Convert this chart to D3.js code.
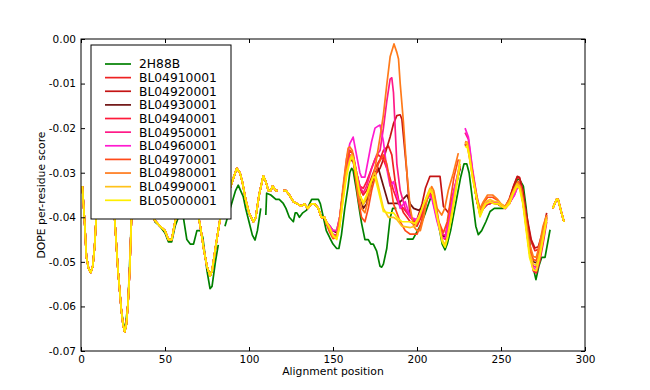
<!DOCTYPE html>
<meta charset="utf-8">
<script src="https://d3js.org/d3.v7.min.js"></script>
<style>
  body { margin: 0; background: #fff; }
  text { font-family: "DejaVu Sans", sans-serif; }
</style>
<div id="my_dataviz"></div>
<script>

// names + colours, in the order they are plotted (legend order)
var names = ["2H88B", "BL04910001", "BL04920001", "BL04930001", "BL04940001", "BL04950001",
             "BL04960001", "BL04970001", "BL04980001", "BL04990001", "BL05000001"];
var colors = ["#008000", "#ee2222", "#c41414", "#6e1111", "#ff1a3a", "#ff1a88",
              "#ff1ad0", "#ff4a1a", "#ff7a1a", "#ffc21a", "#ffee00"];

var xTicks = [0, 50, 100, 150, 200, 250, 300];
var yTicks = [0, -0.01, -0.02, -0.03, -0.04, -0.05, -0.06, -0.07];

// [alignment position, score]; null = gap in the data
// start of the curve, shared by all the BL models (and hidden green)
var modelsStart = [[0.8,-0.033],[2.2,-0.0413],[3.2,-0.0488],[4.5,-0.0515],[5.8,-0.0524],[7,-0.051],[8.1,-0.0466],[9.1,-0.0399],[10,-0.035],
  [12,-0.030],[14,-0.028],[16,-0.030],[18,-0.034],[19,-0.036],[20,-0.040],[22,-0.0518],[24,-0.0608],[25,-0.064],[26,-0.0657],
  [27,-0.064],[28,-0.0593],[29,-0.0518],[30,-0.0406],[31,-0.036],[33,-0.034],[36,-0.032],[40,-0.035],[43.8,-0.0406],
  [47,-0.042],[50,-0.043],[52,-0.045],[54,-0.045],[56,-0.041],[58,-0.038],[61,-0.037],[64,-0.038],[67,-0.037],[69,-0.038],
  [71,-0.042],[73,-0.047],[75,-0.051],[76.8,-0.0532],[78,-0.052],[80,-0.047],[82.7,-0.0406],[85,-0.037],[87.7,-0.0346],
  [90,-0.032],[92.7,-0.029],[94.6,-0.030],[96,-0.032],[98,-0.036],[100,-0.039],[102.6,-0.041],[104,-0.040],[106,-0.035],
  [108.5,-0.0307],[110,-0.032],[111.5,-0.034],[113,-0.034],[114,-0.033],[116,-0.034],[117,-0.034], null,
  [120.4,-0.034],[122,-0.034],[124,-0.035],[126.4,-0.0365],[129,-0.037],[131,-0.0375],[133,-0.037],[135,-0.038],
  [137,-0.037],[139,-0.037],[141.3,-0.038],[143,-0.040],[145,-0.040]];

// last short piece, shared by all the BL models
var modelsEnd = [null, [280.8,-0.038],[283,-0.036],[284,-0.036],[286,-0.039],[287.5,-0.041]];

var green = [[0.8,-0.033],[2.2,-0.0413],[3.2,-0.0488],[4.5,-0.0515],[5.8,-0.0524],[7,-0.051],[8.1,-0.0466],[9.1,-0.0399],
  [10,-0.035],[14,-0.029],[18,-0.034],[20,-0.040],[22,-0.0518],[24,-0.0608],[26,-0.0657],[28,-0.0593],[30,-0.0406],[33,-0.034],
  [36,-0.032],[40,-0.035],[44,-0.041],[47,-0.042],[50,-0.0435],[52,-0.0455],[54,-0.0455],[56,-0.042],[58,-0.040],[61,-0.0402],
  [63,-0.045],[65,-0.046],[67,-0.046],[69,-0.043],[71,-0.043],[72.5,-0.0445],[75,-0.052],[76.8,-0.056],[78,-0.0555],
  [80,-0.050],[81.7,-0.0462], null, [85.7,-0.042],[88,-0.039],[89.7,-0.0369],[92,-0.034],[93.6,-0.0328],[95,-0.034],
  [96.6,-0.0354],[98,-0.038],[100,-0.041],[102,-0.044],[103.6,-0.0451],[105,-0.043],[107,-0.038], null,
  [110,-0.0395],[110.5,-0.0346],[113,-0.035],[116,-0.036],[118,-0.036],[120.4,-0.0369],[122,-0.038],[124,-0.040],
  [126.4,-0.041],[127.5,-0.039],[128.5,-0.039],[130,-0.040],[132,-0.039],[134.3,-0.0384],[136,-0.037],[137.3,-0.036],
  [141.3,-0.036],[142.5,-0.037],[144.2,-0.0399],[146,-0.043],[148.2,-0.0447],[150,-0.046],[152.2,-0.047],[153.5,-0.047],
  [155,-0.044],[157,-0.038],[159,-0.033],[160,-0.030],[161.1,-0.029],[162,-0.0295],[164,-0.034],[166,-0.039],[167,-0.0413],
  [169,-0.045],[171,-0.045],[172.5,-0.046],[174,-0.046],[176,-0.0476],[178,-0.051],[179,-0.0512],[180,-0.0505],[182,-0.047],
  [184,-0.0402],[185.5,-0.038],[187.7,-0.038], null, [193.8,-0.0449],[197.6,-0.0449],[201.8,-0.042],[205,-0.039],
  [208.7,-0.035],[210,-0.0355],[213,-0.042],[215,-0.046],[216.7,-0.0473],[218,-0.046],[220,-0.043],[222,-0.039],[224,-0.035],
  [226,-0.031],[228,-0.028],[229.6,-0.028],[231,-0.030],[233,-0.036],[235,-0.042],[236.5,-0.0439],[238.5,-0.043],[241,-0.041],
  [243.5,-0.0387],[246,-0.038],[251.4,-0.038],[253,-0.0375],[255.4,-0.0364],[257.5,-0.034],[259.7,-0.0315],[261,-0.0315],
  [263.3,-0.033],[265,-0.038],[267.3,-0.0464],[269,-0.051],[270.8,-0.054],[272.5,-0.051],[274.2,-0.049],[276.2,-0.049],
  [279.2,-0.0428]];

var bl04910001 = [[146,-0.041],[148.2,-0.0428],[150,-0.044],[152.2,-0.0442],[154,-0.041],[156,-0.034],[158,-0.028],[160,-0.025],
  [162,-0.0258],[164,-0.030],[166,-0.0335],[168,-0.035],[170,-0.034],[172,-0.032],[175,-0.029],[178,-0.027],[180,-0.025],
  [183,-0.024],[185,-0.026],[187,-0.032],[189,-0.036],[192,-0.039],[196,-0.041],[200,-0.042],[203,-0.0395],[207,-0.035],
  [209,-0.0355],[212,-0.0405],[215,-0.0445],[217,-0.044],[219,-0.040],[222,-0.034],[225.6,-0.0285], null,
  [228.6,-0.0235],[230.6,-0.024],[233,-0.030],[235.5,-0.036],[237.5,-0.039],[239.5,-0.0378],[242,-0.0368],[245,-0.0365],
  [248,-0.0368],[250,-0.0373],[252.4,-0.0378],[255,-0.0358],[257.5,-0.033],[259.7,-0.031],[261,-0.0312],[263,-0.034],
  [265,-0.0395],[268,-0.0455],[270.2,-0.0475],[272.2,-0.0472],[275,-0.0435],[277.2,-0.0395]];

var bl04920001 = [[146,-0.0412],[148.2,-0.0425],[150,-0.043],[152.2,-0.043],[154,-0.040],[156,-0.034],[158,-0.029],[160,-0.027],
  [162,-0.0275],[164,-0.031],[166,-0.035],[168,-0.037],[170,-0.036],[172,-0.033],[174,-0.031],[176,-0.030],[178,-0.029],
  [180,-0.027],[182,-0.0245],[184,-0.022],[186,-0.019],[188,-0.0172],[190,-0.017],[191,-0.018],[192,-0.022],[193.9,-0.0297],
  [195.8,-0.0394],[198,-0.041],[200,-0.0405],[203,-0.037],[205,-0.0335],[207.7,-0.0308],[213.7,-0.0308],[215.7,-0.0375],
  [218.7,-0.039],[221.6,-0.0349],[225.6,-0.029], null, [228.6,-0.0238],[230.6,-0.0245],[233,-0.030],[235.5,-0.036],
  [237.5,-0.039],[239.5,-0.0378],[242,-0.037],[245,-0.0368],[248,-0.037],[250,-0.0375],[252.4,-0.0378],[255,-0.036],
  [257.5,-0.033],[259.7,-0.0308],[261,-0.031],[263,-0.034],[265,-0.039],[268,-0.045],[270.2,-0.0469],[272.2,-0.0466],
  [275,-0.043],[277.2,-0.039]];

var bl04930001 = [[146,-0.041],[148.2,-0.042],[150,-0.043],[152.2,-0.0435],[154,-0.041],[156,-0.035],[158,-0.030],[160,-0.0265],
  [162,-0.027],[164,-0.031],[166,-0.035],[168,-0.038],[170,-0.037],[172,-0.034],[174,-0.031],[176,-0.0295],[177,-0.029],
  [180,-0.033],[183,-0.0369],[189,-0.0369],[192,-0.0358],[194,-0.035],[196,-0.037],[198,-0.038],[200.8,-0.0384],[203,-0.038],
  [207,-0.035],[209,-0.0355],[212,-0.040],[215,-0.044],[217,-0.0445],[219,-0.041],[222,-0.035],[225.6,-0.029], null,
  [228.6,-0.0235],[230.6,-0.024],[233,-0.030],[235.5,-0.036],[237.5,-0.0392],[239.5,-0.038],[242,-0.037],[245,-0.0368],
  [248,-0.037],[250,-0.0375],[252.4,-0.038],[255,-0.0368],[258,-0.0345],[260,-0.032],[262,-0.033],[264,-0.038],[267,-0.0465],
  [269.2,-0.050],[271,-0.0502],[273,-0.048],[275,-0.044],[277.2,-0.040]];

var bl04940001 = [[146,-0.041],[148.2,-0.043],[150,-0.044],[152.2,-0.044],[154,-0.041],[156,-0.035],[158,-0.029],[160,-0.026],
  [162,-0.0265],[164,-0.030],[166,-0.033],[168,-0.0335],[170,-0.032],[173,-0.029],[175,-0.027],[177,-0.026],[180,-0.027],
  [183,-0.030],[186,-0.034],[189,-0.037],[192,-0.038],[196,-0.040],[200,-0.0415],[203,-0.039],[207,-0.0345],[209,-0.035],
  [212,-0.040],[215,-0.0445],[217,-0.045],[219,-0.041],[222,-0.0345],[225.6,-0.0285], null, [228.6,-0.0232],[230.6,-0.024],
  [233,-0.030],[235.5,-0.036],[237.5,-0.0395],[239.5,-0.038],[242,-0.037],[245,-0.0368],[248,-0.037],[250,-0.0375],
  [252.4,-0.038],[255,-0.037],[258,-0.0345],[260,-0.032],[262,-0.033],[264,-0.038],[267,-0.047],[269.2,-0.052],[271,-0.0525],
  [273,-0.050],[275,-0.046],[277.2,-0.041]];

var bl04950001 = [[146,-0.041],[148.2,-0.0425],[150,-0.0438],[152.2,-0.044],[154,-0.041],[156,-0.035],[158,-0.029],[160,-0.026],
  [162,-0.0265],[164,-0.030],[166,-0.033],[168,-0.0345],[170,-0.033],[173,-0.029],[176,-0.026],[178,-0.025],[180,-0.020],
  [182,-0.014],[184,-0.009],[185,-0.0087],[186,-0.012],[187,-0.020],[188,-0.028],[190,-0.034],[193,-0.038],[196,-0.040],
  [200,-0.041],[203,-0.0385],[207,-0.0345],[209,-0.0355],[212,-0.040],[215,-0.0438],[217,-0.044],[219,-0.040],[222,-0.0345],
  [225.6,-0.0285], null, [228.6,-0.021],[230.6,-0.0225],[233,-0.0295],[235.5,-0.0355],[237.5,-0.039],[239.5,-0.0378],
  [242,-0.0368],[245,-0.0366],[248,-0.0368],[250,-0.0373],[252.4,-0.038],[255,-0.0368],[258,-0.035],[260,-0.033],[262,-0.034],
  [264,-0.039],[267,-0.048],[269.2,-0.051],[271,-0.0512],[273,-0.0485],[275,-0.0445],[277.2,-0.0402]];

var bl04960001 = [[146,-0.041],[148.2,-0.042],[150,-0.043],[152.2,-0.043],[154,-0.040],[156,-0.034],[158,-0.027],[160,-0.0235],
  [162,-0.022],[164,-0.026],[166,-0.030],[167,-0.031],[169,-0.031],[171,-0.027],[173,-0.023],[175,-0.020],[177,-0.0195],
  [178,-0.0193],[180,-0.023],[182,-0.029],[184,-0.033],[186,-0.032],[188,-0.035],[190,-0.038],[193,-0.0365],[196,-0.040],
  [200,-0.0405],[203,-0.0385],[207,-0.035],[209,-0.036],[212,-0.041],[215,-0.0448],[217,-0.0445],[219,-0.040],[222,-0.034],
  [225.6,-0.028], null, [228.6,-0.020],[230.6,-0.022],[233,-0.029],[235.5,-0.035],[237.5,-0.0385],[239.5,-0.0375],
  [242,-0.0365],[245,-0.0365],[248,-0.0367],[250,-0.0372],[252.4,-0.038],[255,-0.0368],[258,-0.035],[260,-0.033],[262,-0.034],
  [264,-0.039],[267,-0.048],[269.2,-0.0515],[271,-0.0518],[273,-0.049],[275,-0.045],[277.2,-0.0405]];

var bl04970001 = [[146,-0.0415],[148.2,-0.0435],[150,-0.0448],[152.2,-0.0445],[154,-0.041],[156,-0.034],[158,-0.028],[160,-0.025],
  [161.5,-0.0255],[163,-0.030],[165,-0.036],[167,-0.040],[169,-0.041],[171,-0.038],[173,-0.034],[175,-0.031],[177,-0.028],
  [180,-0.026],[182,-0.028],[184,-0.032],[186,-0.037],[190,-0.041],[193,-0.043],[196,-0.0438],[200,-0.0438],[202,-0.042],
  [205,-0.037],[208,-0.034],[210,-0.0345],[213,-0.041],[215.7,-0.0435],[218,-0.041],[220,-0.036],[222,-0.031],[224.6,-0.027],
  null, [228.6,-0.0235],[230,-0.024],[233,-0.0305],[236,-0.0365],[237.5,-0.0385],[239.5,-0.037],[242,-0.0355],[245,-0.0355],
  [248,-0.0362],[250,-0.037],[252.4,-0.0378],[255,-0.0362],[258,-0.034],[260,-0.0322],[262,-0.034],[264,-0.039],[267,-0.047],
  [269.2,-0.0495],[271,-0.0497],[273,-0.047],[275,-0.043],[277.2,-0.0398]];

var bl04980001 = [[146,-0.0412],[148.2,-0.043],[150,-0.0445],[152.2,-0.044],[154,-0.040],[156,-0.033],[158,-0.027],[159,-0.0245],
  [160,-0.0242],[161.5,-0.025],[163,-0.029],[165,-0.035],[167,-0.038],[169,-0.039],[171,-0.036],[173,-0.032],[175,-0.029],
  [178,-0.022],[180,-0.017],[182,-0.0103],[184,-0.004],[186.3,-0.0011],[188,-0.003],[189,-0.0045],[190,-0.010],[191.9,-0.0185],
  [193.9,-0.0297],[196,-0.038],[198,-0.042],[200,-0.043],[202,-0.043],[204,-0.040],[206,-0.036],[208.7,-0.0331],[210,-0.034],
  [212,-0.038],[214.7,-0.0395],[216.5,-0.038],[218.6,-0.034],[221.6,-0.0301],[224.6,-0.0256], null, [228.6,-0.023],
  [230,-0.0232],[233,-0.030],[236,-0.036],[237.5,-0.038],[239.5,-0.0365],[242,-0.035],[245,-0.035],[248,-0.036],[250,-0.037],
  [252.4,-0.0375],[255,-0.036],[258,-0.0335],[260,-0.032],[262,-0.0335],[264,-0.038],[267,-0.046],[269.2,-0.0488],[271,-0.049],
  [273,-0.046],[275,-0.042],[277.2,-0.0395]];

var bl04990001 = [[146,-0.041],[148.2,-0.0425],[150,-0.0442],[152.2,-0.0448],[154,-0.042],[156,-0.036],[158,-0.030],[160,-0.027],
  [161.1,-0.026],[162,-0.0265],[164,-0.030],[166,-0.035],[168,-0.0372],[170,-0.0355],[172,-0.033],[174,-0.0305],[175,-0.030],
  [177,-0.033],[180,-0.038],[183,-0.040],[186,-0.040],[188,-0.0405],[191,-0.042],[196,-0.0423],[198.8,-0.042],[201,-0.0405],
  [204,-0.037],[207.7,-0.0335],[209,-0.034],[212,-0.0395],[215,-0.045],[216.7,-0.0462],[218,-0.0445],[220.6,-0.039],
  [223.6,-0.032],[225.6,-0.027], null, [228.6,-0.0235],[229.7,-0.0232],[231,-0.0255],[233,-0.031],[235.5,-0.036],
  [237.5,-0.039],[239.5,-0.0375],[241,-0.0365],[243.5,-0.036],[246,-0.0365],[248.4,-0.0365],[250,-0.037],[252.4,-0.0378],
  [255,-0.0365],[257,-0.0345],[259.5,-0.0325],[261,-0.033],[263,-0.0365],[265,-0.0425],[267,-0.048],[269.2,-0.0505],
  [271,-0.0508],[273,-0.048],[275,-0.044],[277.2,-0.040]];

var bl05000001 = [[146,-0.041],[148.2,-0.0425],[150,-0.044],[152.2,-0.045],[154,-0.042],[156,-0.036],[158,-0.031],[160,-0.0275],
  [161.1,-0.0265],[162,-0.027],[164,-0.031],[166,-0.035],[168,-0.0367],[170,-0.035],[172,-0.0325],[174,-0.031],[175,-0.031],
  [177,-0.034],[180,-0.0387],[183,-0.039],[186,-0.039],[188,-0.040],[191,-0.041],[196,-0.041],[198.8,-0.0414],[201,-0.040],
  [204,-0.037],[207.7,-0.034],[209,-0.0345],[212,-0.040],[215,-0.0455],[216.7,-0.0467],[218,-0.045],[220.6,-0.040],
  [223.6,-0.0331],[225.6,-0.028], null, [228.6,-0.0242],[229.7,-0.024],[231,-0.026],[233,-0.031],[235.5,-0.0357],
  [237.5,-0.0399],[239.5,-0.038],[241,-0.037],[243.5,-0.0365],[246,-0.037],[248.4,-0.037],[250,-0.0375],[252.4,-0.038],
  [255,-0.037],[257,-0.035],[259.5,-0.033],[261,-0.0335],[263,-0.037],[265,-0.043],[267,-0.049],[269.2,-0.0518],[271,-0.052],
  [273,-0.049],[275,-0.045],[277.2,-0.0405]];

var modelTails = [bl04910001, bl04920001, bl04930001, bl04940001, bl04950001,
                  bl04960001, bl04970001, bl04980001, bl04990001, bl05000001];

// set the dimensions and margins of the graph
var margin = {top: 39, right: 65, bottom: 39, left: 81},
    width = 650 - margin.left - margin.right,
    height = 390 - margin.top - margin.bottom;

var svg = d3.select("#my_dataviz")
  .append("svg")
    .attr("width", width + margin.left + margin.right)
    .attr("height", height + margin.top + margin.bottom)
  .append("g")
    .attr("transform", "translate(" + margin.left + "," + margin.top + ")");

var x = d3.scaleLinear().domain([0, 300]).range([0, width]);
var y = d3.scaleLinear().domain([-0.07, 0]).range([height, 0]);

svg.append("clipPath").attr("id", "clip")
  .append("rect").attr("width", width).attr("height", height);

// one entry per line
var series = names.map(function(n, i) {
  var pts = i == 0 ? green : modelsStart.concat(modelTails[i - 1], modelsEnd);
  return {name: n, color: colors[i], values: pts};
});

var line = d3.line()
  .defined(function(d) { return d !== null; })
  .x(function(d) { return x(d[0]); })
  .y(function(d) { return y(d[1]); });

svg.append("g").attr("clip-path", "url(#clip)")
  .selectAll("path")
  .data(series)
  .enter().append("path")
    .attr("d", function(d) { return line(d.values); })
    .attr("fill", "none")
    .attr("stroke", function(d) { return d.color; })
    .attr("stroke-width", 1.7)
    .attr("stroke-linejoin", "round");

// axes, ticks pointing inwards on all four sides
var fmt = function(d) { return d.toFixed(2); };
var xa = svg.append("g")
  .attr("transform", "translate(0," + height + ")")
  .call(d3.axisBottom(x).tickValues(xTicks).tickSizeInner(-4).tickSizeOuter(0).tickPadding(5));
var ya = svg.append("g")
  .call(d3.axisLeft(y).tickValues(yTicks).tickFormat(fmt).tickSizeInner(-4).tickSizeOuter(0).tickPadding(5));
svg.append("g")
  .call(d3.axisTop(x).tickValues(xTicks).tickFormat("").tickSizeInner(-4).tickSizeOuter(0));
svg.append("g")
  .attr("transform", "translate(" + width + ",0)")
  .call(d3.axisRight(y).tickValues(yTicks).tickFormat("").tickSizeInner(-4).tickSizeOuter(0));
svg.selectAll(".domain").remove();
svg.selectAll(".tick line").attr("stroke", "#000");
svg.selectAll(".tick text").attr("fill", "#000").style("font-size", "10.5px");

svg.append("rect")
  .attr("width", width).attr("height", height)
  .attr("fill", "none").attr("stroke", "#000").attr("stroke-width", 1);

svg.append("text")
  .attr("x", width / 2)
  .attr("y", height + 24)
  .style("text-anchor", "middle")
  .style("font-size", "10.8px")
  .text("Alignment position");

svg.append("text")
  .attr("transform", "rotate(-90)")
  .attr("x", -height / 2)
  .attr("y", -36)
  .style("text-anchor", "middle")
  .style("font-size", "10.8px")
  .text("DOPE per-residue score");

// legend box
var leg = svg.append("g").attr("transform", "translate(10,6)");
leg.append("rect")
  .attr("width", 140).attr("height", 174)
  .attr("fill", "#fff").attr("stroke", "#000").attr("stroke-width", 1);
var item = leg.selectAll(".item")
  .data(series)
  .enter().append("g")
    .attr("transform", function(d, i) { return "translate(0," + (19 + i * 13.63) + ")"; });
item.append("line")
  .attr("x1", 14).attr("x2", 40)
  .attr("stroke", function(d) { return d.color; })
  .attr("stroke-width", 1.7);
item.append("text")
  .attr("x", 48)
  .attr("dy", "0.36em")
  .style("font-size", "12.3px")
  .text(function(d) { return d.name; });

</script>
